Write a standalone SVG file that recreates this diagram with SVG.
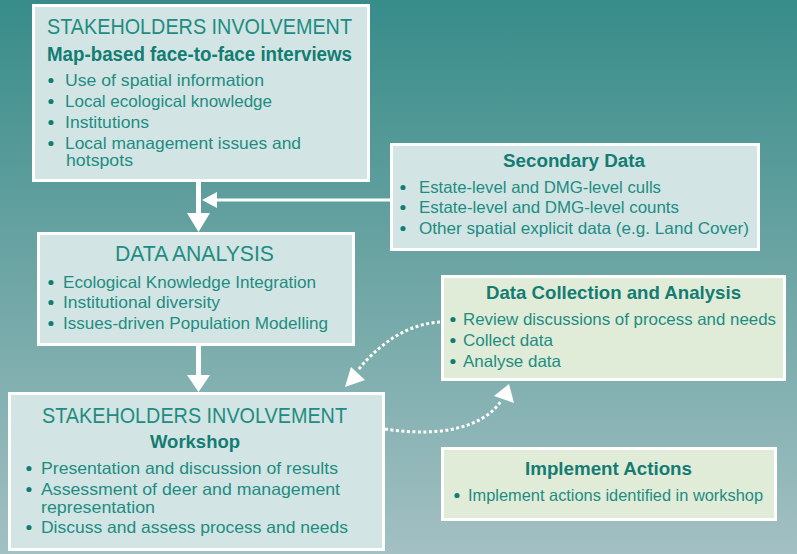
<svg xmlns="http://www.w3.org/2000/svg" width="797" height="554" viewBox="0 0 797 554">
<defs>
<linearGradient id="bg" x1="0" y1="0" x2="0" y2="1">
<stop offset="0" stop-color="#378c89"/>
<stop offset="0.5" stop-color="#6ea6a5"/>
<stop offset="1" stop-color="#a3c0c3"/>
</linearGradient>
</defs>
<style>
text{font-family:"Liberation Sans",Arial,sans-serif;fill:#1e8c82}
.t{font-size:22px}
.h{font-size:18.5px;font-weight:bold;fill:#137c73}
.b{font-size:16.5px}
.box{fill:#d2e5e4;stroke:#fff;stroke-width:3}
.gbox{fill:#e0ecd8;stroke:#fff;stroke-width:3}
.dot{fill:#137c73}
.solid{stroke:#fff;fill:none}
.dotted{stroke:#fff;fill:none;stroke-width:3;stroke-dasharray:3 2.5}
.head{fill:#fff}
</style>
<rect width="797" height="554" fill="url(#bg)"/>

<g id="connectors">
<line class="solid" x1="198.5" y1="182" x2="198.5" y2="215" stroke-width="5"/>
<polygon class="head" points="187,213 210,213 198.5,232"/>
<line class="solid" x1="391" y1="200" x2="215" y2="200" stroke-width="3"/>
<polygon class="head" points="202,200 217,192 217,208"/>
<line class="solid" x1="198.5" y1="346" x2="198.5" y2="377" stroke-width="5"/>
<polygon class="head" points="187,375 210,375 198.5,392"/>
<path class="dotted" d="M440,322 Q395,325 358,370"/>
<polygon class="head" points="345,387 351,367 365,380"/>
<path class="dotted" d="M385,429 C430,436 480,432 501,401"/>
<polygon class="head" points="509,384 494,396 514,403"/>
</g>

<g id="stakeholders-interviews">
<rect class="box" x="33.5" y="5.5" width="335" height="175"/>
<text class="t" x="47" y="34" textLength="305" lengthAdjust="spacingAndGlyphs">STAKEHOLDERS INVOLVEMENT</text>
<text class="h" x="47" y="61" style="font-size:19.5px" textLength="305" lengthAdjust="spacingAndGlyphs">Map-based face-to-face interviews</text>
<circle class="dot" cx="51" cy="80.5" r="2.6"/>
<text class="b" x="65" y="86" textLength="199" lengthAdjust="spacingAndGlyphs">Use of spatial information</text>
<circle class="dot" cx="51" cy="101.5" r="2.6"/>
<text class="b" x="65" y="107" textLength="207" lengthAdjust="spacingAndGlyphs">Local ecological knowledge</text>
<circle class="dot" cx="51" cy="122.5" r="2.6"/>
<text class="b" x="65" y="128" textLength="84" lengthAdjust="spacingAndGlyphs">Institutions</text>
<circle class="dot" cx="51" cy="143.5" r="2.6"/>
<text class="b" x="65" y="149" textLength="236" lengthAdjust="spacingAndGlyphs">Local management issues and</text>
<text class="b" x="66" y="166" textLength="67" lengthAdjust="spacingAndGlyphs">hotspots</text>
</g>

<g id="secondary-data">
<rect class="box" x="391.5" y="144.5" width="367" height="105"/>
<text class="h" x="503" y="167" style="font-size:18px" textLength="142" lengthAdjust="spacingAndGlyphs">Secondary Data</text>
<circle class="dot" cx="403" cy="187.5" r="2.6"/>
<text class="b" x="419" y="193" textLength="242" lengthAdjust="spacingAndGlyphs">Estate-level and DMG-level culls</text>
<circle class="dot" cx="403" cy="207.5" r="2.6"/>
<text class="b" x="419" y="213" textLength="260" lengthAdjust="spacingAndGlyphs">Estate-level and DMG-level counts</text>
<circle class="dot" cx="403" cy="228.5" r="2.6"/>
<text class="b" x="419" y="234" textLength="330" lengthAdjust="spacingAndGlyphs">Other spatial explicit data (e.g. Land Cover)</text>
</g>

<g id="data-analysis">
<rect class="box" x="38.5" y="233.5" width="315" height="111"/>
<text class="t" x="115" y="261" textLength="159" lengthAdjust="spacingAndGlyphs">DATA ANALYSIS</text>
<circle class="dot" cx="51" cy="282.5" r="2.6"/>
<text class="b" x="63" y="288" textLength="253" lengthAdjust="spacingAndGlyphs">Ecological Knowledge Integration</text>
<circle class="dot" cx="51" cy="302.5" r="2.6"/>
<text class="b" x="63" y="308" textLength="157" lengthAdjust="spacingAndGlyphs">Institutional diversity</text>
<circle class="dot" cx="51" cy="323.5" r="2.6"/>
<text class="b" x="63" y="329" textLength="265" lengthAdjust="spacingAndGlyphs">Issues-driven Population Modelling</text>
</g>

<g id="data-collection">
<rect class="gbox" x="442.5" y="276.5" width="342" height="103"/>
<text class="h" x="486" y="299" textLength="255" lengthAdjust="spacingAndGlyphs">Data Collection and Analysis</text>
<circle class="dot" cx="453" cy="319.5" r="2.6"/>
<text class="b" x="463" y="325" textLength="313" lengthAdjust="spacingAndGlyphs">Review discussions of process and needs</text>
<circle class="dot" cx="453" cy="340.5" r="2.6"/>
<text class="b" x="463" y="346" textLength="90" lengthAdjust="spacingAndGlyphs">Collect data</text>
<circle class="dot" cx="453" cy="361.5" r="2.6"/>
<text class="b" x="463" y="367" textLength="98" lengthAdjust="spacingAndGlyphs">Analyse data</text>
</g>

<g id="stakeholders-workshop">
<rect class="box" x="9.5" y="393.5" width="374" height="156"/>
<text class="t" x="42" y="423" textLength="305" lengthAdjust="spacingAndGlyphs">STAKEHOLDERS INVOLVEMENT</text>
<text class="h" x="150" y="448" textLength="90" lengthAdjust="spacingAndGlyphs">Workshop</text>
<circle class="dot" cx="29" cy="468.5" r="2.6"/>
<text class="b" x="41" y="474" textLength="297" lengthAdjust="spacingAndGlyphs">Presentation and discussion of results</text>
<circle class="dot" cx="29" cy="489.5" r="2.6"/>
<text class="b" x="41" y="495" textLength="299" lengthAdjust="spacingAndGlyphs">Assessment of deer and management</text>
<text class="b" x="41" y="513" textLength="114" lengthAdjust="spacingAndGlyphs">representation</text>
<circle class="dot" cx="29" cy="527.5" r="2.6"/>
<text class="b" x="41" y="533" textLength="307" lengthAdjust="spacingAndGlyphs">Discuss and assess process and needs</text>
</g>

<g id="implement-actions">
<rect class="gbox" x="442.5" y="448.5" width="333" height="71"/>
<text class="h" x="525" y="475" textLength="167" lengthAdjust="spacingAndGlyphs">Implement Actions</text>
<circle class="dot" cx="457" cy="495.5" r="2.6"/>
<text class="b" x="468" y="501" textLength="295" lengthAdjust="spacingAndGlyphs">Implement actions identified in workshop</text>
</g>
</svg>
